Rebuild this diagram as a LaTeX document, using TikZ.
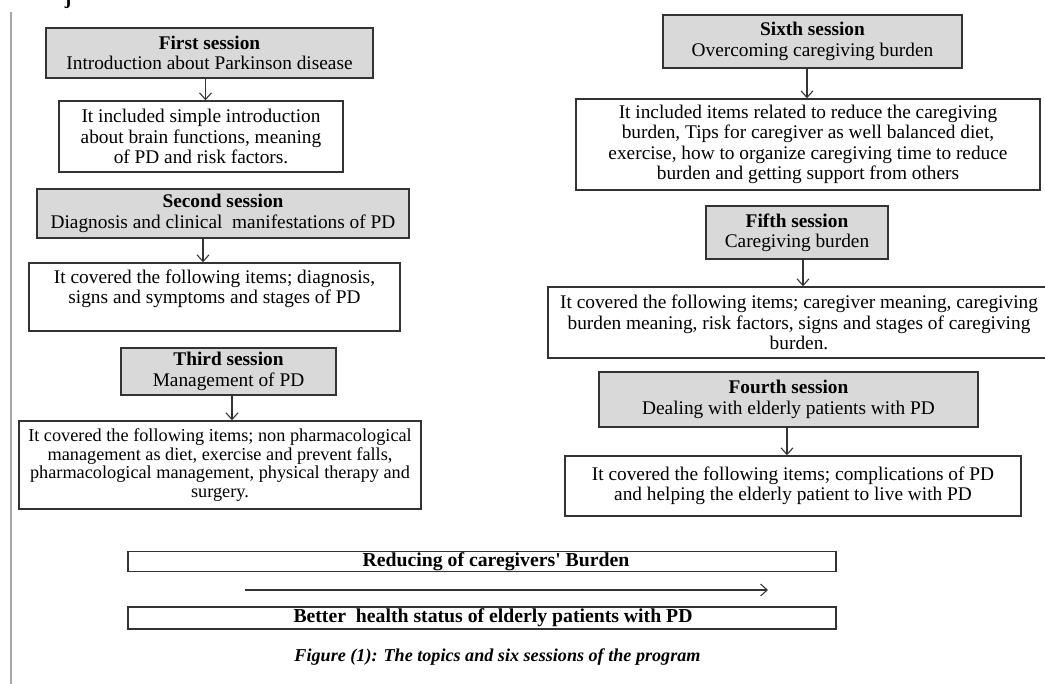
\documentclass[tikz,border=0pt]{standalone}
\usepackage{fontspec}
\setmainfont{Liberation Serif}[Ligatures=TeXOff]
\usetikzlibrary{arrows.meta}
\newlength\pxu
\setlength\pxu{0.75pt}
\begin{document}
\begin{tikzpicture}[x=0.75pt,y=-0.75pt,
  font=\fontsize{14.5}{15.2}\selectfont,
  sess/.style={draw=black!80, fill=black!15, line width=1.1pt, align=center, inner sep=0pt},
  desc/.style={draw=black!80, fill=white, line width=1.1pt, align=center, inner sep=0pt},
  band/.style={draw=black!80, fill=white, line width=1.1pt, inner sep=0pt,
    minimum width=708\pxu},
  btext/.style={inner sep=0pt, font=\fontsize{14.8}{15}\selectfont\bfseries},
  conn/.style={-{Straight Barb[length=5pt,width=9pt]}, line width=0.8pt, draw=black!80},
  capt/.style={font=\fontsize{13.6}{15}\selectfont\bfseries\itshape, inner sep=0pt}
]
\useasboundingbox (0,0) rectangle (1045,684);
\fill[white] (0,0) rectangle (1045,684);

% left rule and cut-off glyph
\coordinate (rt) at (11,12);
\coordinate (rb) at (11,684);
\draw[black!35, line width=1.2pt] (rt) -- (rb);
\node[anchor=base, inner sep=0pt, font=\fontsize{14.5}{15}\selectfont\bfseries] (jj) at (68,5) {j};

% ---------- left column ----------
\node[sess, minimum width=327\pxu, minimum height=50\pxu] (s1) at (209.5,53)
  {\textbf{First session}\\Introduction about Parkinson disease};
\node[desc, minimum width=284\pxu, minimum height=71\pxu] (b1) at (201,136.5)
  {It included simple introduction\\about brain functions, meaning\\of PD and risk factors.};
\node[sess, minimum width=372\pxu, minimum height=49\pxu] (s2) at (223,213.5)
  {\textbf{Second session}\\Diagnosis and clinical\ \ manifestations of PD};
\node[desc, minimum width=371\pxu, minimum height=68\pxu] (b2) at (214.5,297)
  {It covered the following items; diagnosis,\\signs and symptoms and stages of PD\\\mbox{}};
\node[sess, minimum width=215\pxu, minimum height=47\pxu] (s3) at (228.5,371.5)
  {\textbf{Third session}\\Management of PD};
\node[desc, minimum width=402\pxu, minimum height=88\pxu,
      font=\fontsize{13.7}{13.8}\selectfont] (b3) at (220,465)
  {It covered the following items; non pharmacological\\management as diet, exercise and prevent falls,\\pharmacological management, physical therapy and\\surgery.};

% ---------- right column ----------
\node[sess, minimum width=299\pxu, minimum height=53\pxu] (s6) at (812.5,41.5)
  {\textbf{Sixth session}\\Overcoming caregiving burden};
\node[desc, minimum width=464\pxu, minimum height=91\pxu] (b6) at (808,144.5)
  {It included items related to reduce the caregiving\\burden, Tips for caregiver as well balanced diet,\\exercise, how to organize caregiving time to reduce\\burden and getting support from others\rule[-3pt]{0pt}{1pt}};
\node[sess, minimum width=182\pxu, minimum height=53\pxu] (s5) at (797,232.5)
  {\textbf{Fifth session}\\Caregiving burden};
\node[desc, minimum width=502\pxu, minimum height=71\pxu] (b5) at (799,322.5)
  {It covered the following items; caregiver meaning, caregiving\\burden meaning, risk factors, signs and stages of caregiving\\burden.};
\node[sess, minimum width=379\pxu, minimum height=55\pxu] (s4) at (788.5,399.5)
  {\textbf{Fourth session}\\Dealing with elderly patients with PD};
\node[desc, minimum width=456\pxu, minimum height=60\pxu] (b4) at (793,486)
  {It covered the following items; complications of PD\\and helping the elderly patient to live with PD};

% ---------- connectors ----------
\draw[conn] ([xshift=-4\pxu]s1.south) -- ([xshift=-4\pxu]s1.south |- b1.north);
\draw[conn] ([xshift=-20\pxu]s2.south) -- ([xshift=-20\pxu]s2.south |- b2.north);
\draw[conn] ([xshift=3.5\pxu]s3.south) -- ([xshift=3.5\pxu]s3.south |- b3.north);
\draw[conn] ([xshift=-5.5\pxu]s6.south) -- ([xshift=-5.5\pxu]s6.south |- b6.north);
\draw[conn] ([xshift=6\pxu]s5.south) -- ([xshift=6\pxu]s5.south |- b5.north);
\draw[conn] ([xshift=-1.5\pxu]s4.south) -- ([xshift=-1.5\pxu]s4.south |- b4.north);

% ---------- bottom ----------
\node[band, minimum height=20\pxu] (rb1) at (482,561.5) {};
\node[btext] (rt1) at (496,561.5) {Reducing of caregivers' Burden};
\coordinate (a0) at (245,590);
\coordinate (a1) at (768,590);
\draw[conn] (a0) -- (a1);
\node[band, minimum height=22\pxu] (rb2) at (482,618) {};
\node[btext] (rt2) at (493,618) {Better\ \ health status of elderly patients with PD};
\node[capt] (cap) at (497.5,657.5) {Figure (1): The topics and six sessions of the program};
\end{tikzpicture}
\end{document}
